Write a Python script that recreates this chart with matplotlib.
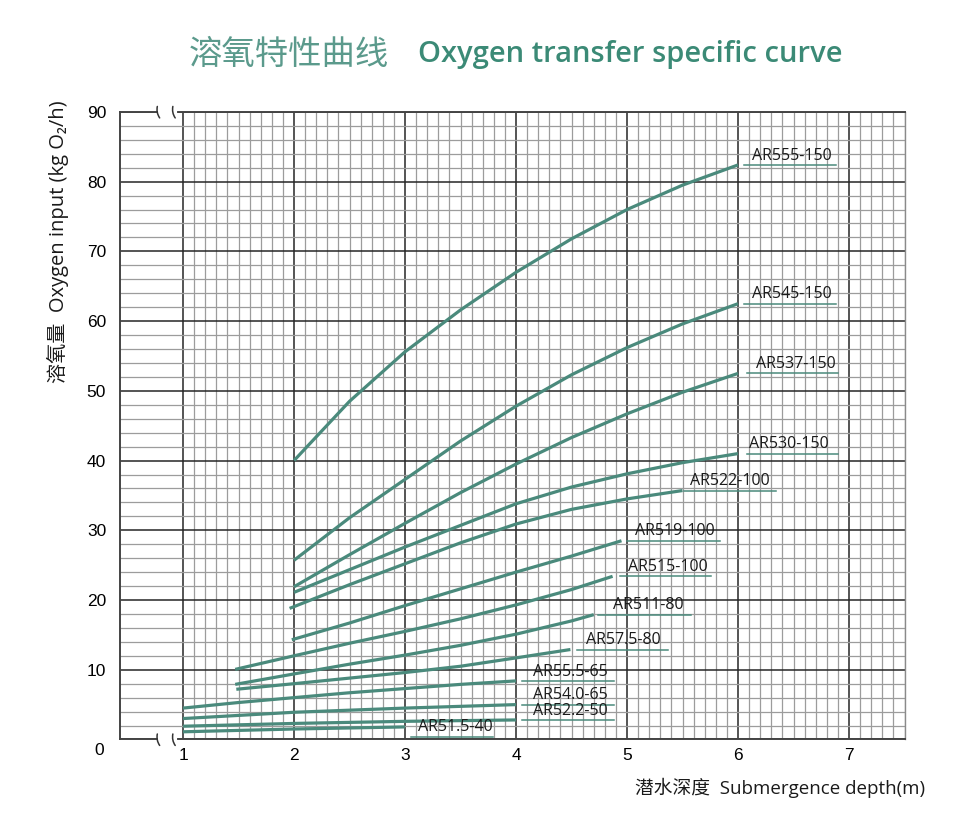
import matplotlib
matplotlib.use('Agg')
import matplotlib.pyplot as plt
from matplotlib.ticker import MultipleLocator, FixedLocator
import numpy as np

# curve data: depth (m) -> oxygen input (kg O2/h)
ar555_x = [2, 2.5, 3, 3.5, 4, 4.5, 5, 5.5, 6]
ar555_y = [40, 48.5, 55.6, 61.6, 67, 71.8, 76, 79.5, 82.4]
ar545_x = [2, 2.5, 3, 3.5, 4, 4.5, 5, 5.5, 6]
ar545_y = [25.7, 31.8, 37.3, 42.8, 47.8, 52.3, 56.2, 59.6, 62.5]
ar537_x = [2, 2.5, 3, 3.5, 4, 4.5, 5, 5.5, 6]
ar537_y = [21.9, 26.5, 31.0, 35.4, 39.5, 43.3, 46.7, 49.8, 52.5]
ar530_x = [2, 3, 4, 4.5, 5, 5.5, 6]
ar530_y = [21.1, 27.6, 33.8, 36.2, 38.1, 39.7, 41.0]
ar522_x = [1.96, 2.5, 3, 3.5, 4, 4.5, 5, 5.5]
ar522_y = [18.8, 22.2, 25.2, 28.2, 30.9, 33.0, 34.5, 35.7]
ar519_x = [1.98, 2.5, 3, 3.5, 4, 4.5, 4.95]
ar519_y = [14.3, 16.7, 19.2, 21.6, 24.0, 26.3, 28.5]
ar515_x = [1.47, 2, 2.5, 3, 3.5, 4, 4.5, 4.87]
ar515_y = [10.05, 12.0, 13.8, 15.5, 17.3, 19.3, 21.5, 23.4]
ar511_x = [1.47, 2, 2.5, 3, 3.5, 4, 4.5, 4.7]
ar511_y = [7.9, 9.4, 10.8, 12.1, 13.5, 15.1, 17.0, 17.9]
ar575_x = [1.48, 2, 2.5, 3, 3.5, 4, 4.49]
ar575_y = [7.2, 8.0, 8.8, 9.6, 10.5, 11.7, 12.9]
ar555s_x = [1, 1.5, 2, 2.5, 3, 3.5, 4]
ar555s_y = [4.5, 5.3, 6.0, 6.7, 7.3, 7.9, 8.4]
ar540_x = [1, 2, 3, 4]
ar540_y = [3.0, 3.9, 4.5, 5.0]
ar522s_x = [1, 2, 3, 4]
ar522s_y = [1.9, 2.3, 2.6, 2.8]
ar515s_x = [1, 2, 3]
ar515s_y = [1.1, 1.5, 1.8]

names = ['AR555-150', 'AR545-150', 'AR537-150', 'AR530-150', 'AR522-100',
         'AR519-100', 'AR515-100', 'AR511-80', 'AR57.5-80', 'AR55.5-65',
         'AR54.0-65', 'AR52.2-50', 'AR51.5-40']
xs = [ar555_x, ar545_x, ar537_x, ar530_x, ar522_x, ar519_x, ar515_x,
      ar511_x, ar575_x, ar555s_x, ar540_x, ar522s_x, ar515s_x]
ys = [ar555_y, ar545_y, ar537_y, ar530_y, ar522_y, ar519_y, ar515_y,
      ar511_y, ar575_y, ar555s_y, ar540_y, ar522s_y, ar515s_y]

# label leader lines (x start, x end) and text start, in data units
lead_x0 = [6.05, 6.05, 6.08, 6.08, 5.51, 5.0, 4.94, 4.74, 4.55, 4.05, 4.05, 4.05, 3.05]
lead_x1 = [6.88, 6.88, 6.90, 6.90, 6.34, 5.84, 5.76, 5.58, 5.37, 4.88, 4.88, 4.88, 3.79]
text_x = [6.13, 6.13, 6.16, 6.10, 5.57, 5.07, 5.01, 4.87, 4.63, 4.15, 4.15, 4.15, 3.12]

teal = '#4a8a7c'
title_col = '#3b8a76'
latin_cjk = ['Open Sans', 'Noto Sans CJK SC', 'DejaVu Sans']

fig = plt.figure(figsize=(9.68, 8.23), dpi=100)
ax = fig.add_axes([0.124, 0.1015, 0.811, 0.7625])
ax.set_xlim(0.4324, 7.505)
ax.set_ylim(0, 90)

ax.xaxis.set_major_locator(FixedLocator([1, 2, 3, 4, 5, 6, 7]))
ax.xaxis.set_minor_locator(FixedLocator(np.round(np.arange(1.0, 7.51, 0.1), 2)))
ax.yaxis.set_major_locator(MultipleLocator(10))
ax.yaxis.set_minor_locator(MultipleLocator(2))
ax.grid(True, which='major', color='#262626', linewidth=1.1, zorder=1)
ax.grid(True, which='minor', color='#9c9c9c', linewidth=0.9, zorder=0)
ax.set_axisbelow(True)
ax.tick_params(which='both', length=0)
ax.tick_params(axis='y', pad=10)
ax.tick_params(axis='x', pad=6)
ax.set_yticks(range(0, 91, 10))
ax.set_yticklabels([''] + [str(v) for v in range(10, 91, 10)], family='Liberation Sans', fontsize=12.5)
ax.set_xticklabels([str(v) for v in range(1, 8)], family='Liberation Sans', fontsize=12.5)
ax.text(-0.02, -0.018, '0', transform=ax.transAxes, ha='right', va='center',
        family='Liberation Sans', fontsize=12.5)

for sp in ['left', 'bottom', 'top']:
    ax.spines[sp].set_color('#444444')
    ax.spines[sp].set_linewidth(1.4)
ax.spines['right'].set_color('#8a8a8a')
ax.spines['right'].set_linewidth(1.0)

for name, x, y, x0, x1, tx in zip(names, xs, ys, lead_x0, lead_x1, text_x):
    ax.plot(x, y, color=teal, linewidth=2.3, solid_capstyle='butt',
            solid_joinstyle='round', zorder=3)
    ly = y[-1] if name != 'AR51.5-40' else 0.4
    ax.plot([x0, x1], [ly, ly], color=teal, linewidth=1.1, zorder=3)
    ax.annotate(name, (tx, ly), xytext=(0, 1.0), textcoords='offset points',
                ha='left', va='bottom', fontsize=11.5, family='Open Sans',
                color='#1a1a1a', zorder=4)

# axis break marks on top and bottom
for yb in (0.0, 1.0):
    ax.plot([0.79, 0.93], [yb, yb], transform=ax.get_xaxis_transform(),
            color='white', linewidth=3, clip_on=False, zorder=5)
    for xb in (0.79, 0.93):
        ax.annotate('', xy=(xb + 0.015, yb - 0.013), xytext=(xb - 0.015, yb + 0.013),
                    xycoords=ax.get_xaxis_transform(), textcoords=ax.get_xaxis_transform(),
                    arrowprops=dict(arrowstyle='-', color='#333333', lw=1.1,
                                    connectionstyle='arc3,rad=0.3'), zorder=6)

fig.text(0.195, 0.934, '溶氧特性曲线', family=['Noto Sans CJK SC'], fontsize=24,
         color='#5b9a8c', ha='left', va='center', fontweight='light')
fig.text(0.432, 0.934, 'Oxygen transfer specific curve', family='Open Sans', fontsize=21,
         color=title_col, ha='left', va='center', fontweight='semibold')

fig.text(0.06, 0.706, '溶氧量  Oxygen input (kg O₂/h)', family=latin_cjk, fontsize=14.5,
         rotation=90, ha='center', va='center', color='#1a1a1a')
fig.text(0.956, 0.043, '潜水深度  Submergence depth(m)', family=latin_cjk, fontsize=13.5,
         ha='right', va='center', color='#1a1a1a')

fig.savefig('out.png', dpi=100, facecolor='white')
